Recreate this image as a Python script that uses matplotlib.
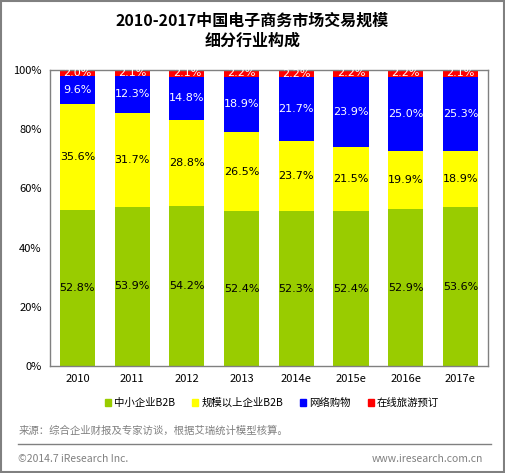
import matplotlib
matplotlib.use("Agg")
import matplotlib.pyplot as plt
from matplotlib.patches import Rectangle
from matplotlib.lines import Line2D

plt.rcParams["font.family"] = ["Noto Sans CJK SC", "DejaVu Sans"]

YEARS = ["2010", "2011", "2012", "2013", "2014e", "2015e", "2016e", "2017e"]
SERIES = ["中小企业B2B", "规模以上企业B2B", "网络购物", "在线旅游预订"]
SME_B2B = [52.8, 53.9, 54.2, 52.4, 52.3, 52.4, 52.9, 53.6]
LARGE_B2B = [35.6, 31.7, 28.8, 26.5, 23.7, 21.5, 19.9, 18.9]
ONLINE_SHOP = [9.6, 12.3, 14.8, 18.9, 21.7, 23.9, 25.0, 25.3]
ONLINE_TRAVEL = [2.0, 2.1, 2.1, 2.2, 2.2, 2.2, 2.2, 2.1]

COLORS = ["#99CC00", "#FFFF00", "#0000FF", "#FF0000"]
TEXT_COLORS = ["black", "black", "white", "white"]

fig = plt.figure(figsize=(5.05, 4.73), dpi=100)
ax = fig.add_axes([0.099, 0.226, 0.867, 0.626])

x = list(range(len(YEARS)))
bottom = [0.0] * len(YEARS)
for values, color, tcolor, name in zip(
    [SME_B2B, LARGE_B2B, ONLINE_SHOP, ONLINE_TRAVEL], COLORS, TEXT_COLORS, SERIES
):
    ax.bar(x, values, bottom=bottom, width=0.64, color=color, label=name)
    for i, v in enumerate(values):
        ax.text(x[i], bottom[i] + v / 2, f"{v:.1f}%", ha="center", va="center",
                fontsize=8, color=tcolor, family=["DejaVu Sans"])
    bottom = [b + v for b, v in zip(bottom, values)]

ax.set_xlim(-0.5, len(YEARS) - 0.5)
ax.set_ylim(0, 100)
ax.set_yticks([0, 20, 40, 60, 80, 100])
ax.set_yticklabels([f"{t}%" for t in [0, 20, 40, 60, 80, 100]], fontsize=8)
ax.set_xticks(x)
ax.set_xticklabels(YEARS, fontsize=8)
ax.tick_params(length=0, pad=6)
for s in ax.spines.values():
    s.set_color("#808080")
    s.set_linewidth(1)

fig.text(0.5, 0.957, "2010-2017中国电子商务市场交易规模", ha="center", va="center",
         fontsize=11.5, fontweight="bold")
fig.text(0.5, 0.915, "细分行业构成", ha="center", va="center",
         fontsize=11.5, fontweight="bold")

handles = [Rectangle((0, 0), 1, 1, color=c) for c in COLORS]
fig.legend(handles, SERIES, loc="center", bbox_to_anchor=(0.539, 0.148), ncol=4,
           frameon=False, fontsize=7.5, handlelength=0.6, handleheight=0.6,
           handletextpad=0.3, columnspacing=1.6)

fig.text(0.036, 0.09, "来源：综合企业财报及专家访谈，根据艾瑞统计模型核算。",
         fontsize=7.5, color="#808080", va="center")
fig.add_artist(Line2D([0.036, 0.972], [0.062, 0.062], color="#808080", lw=1,
                      transform=fig.transFigure))
fig.text(0.036, 0.03, "©2014.7 iResearch Inc.", fontsize=7.5, color="#808080", va="center")
fig.text(0.957, 0.03, "www.iresearch.com.cn", fontsize=7.5, color="#808080",
         va="center", ha="right")

fig.add_artist(Rectangle((0.002, 0.002), 0.996, 0.996, fill=False,
                         edgecolor="#808080", lw=1.5, transform=fig.transFigure))

fig.savefig("out.png", dpi=100)
